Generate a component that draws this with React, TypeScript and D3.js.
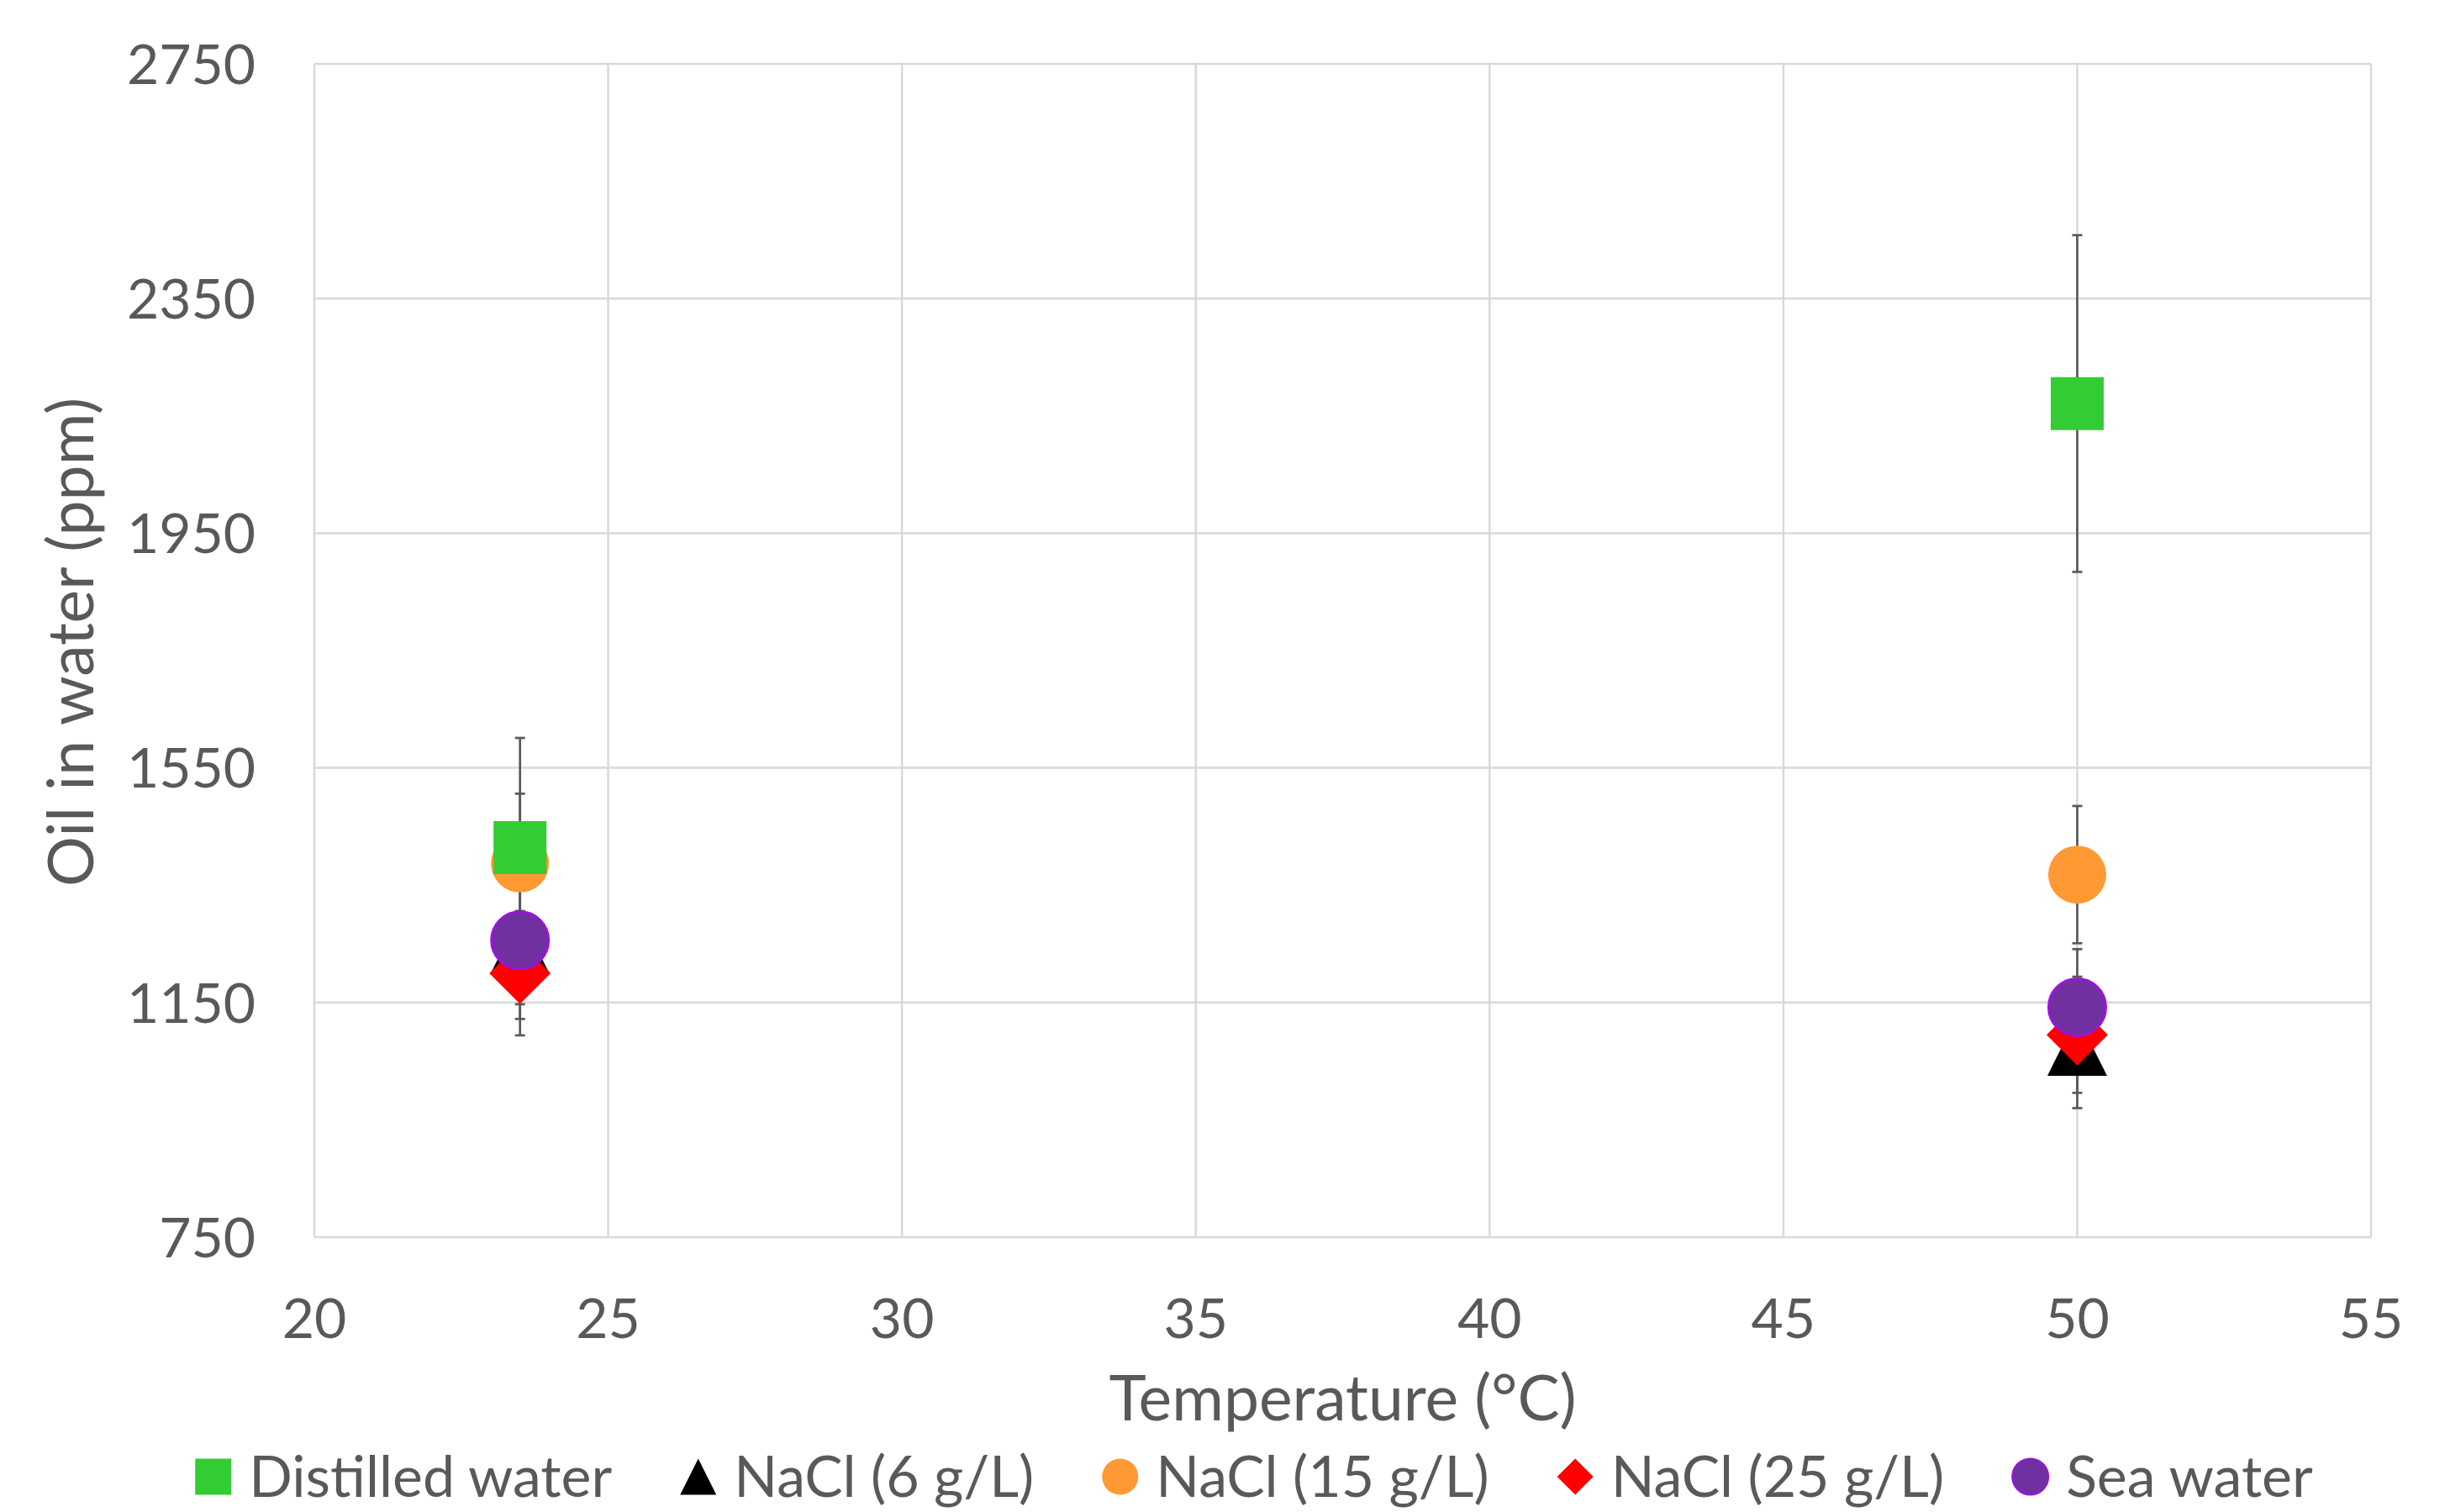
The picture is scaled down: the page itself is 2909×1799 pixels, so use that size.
import React, { useEffect, useRef } from "react";
import * as d3 from "d3";

// ---- data ----
const temperatures = [23.5, 50];
const xTicks = [20, 25, 30, 35, 40, 45, 50, 55];
const yTicks = [750, 1150, 1550, 1950, 2350, 2750];
const seriesNames = ["Distilled water", "NaCl (6 g/L)", "NaCl (15 g/L)", "NaCl (25 g/L)", "Sea water"];

const distilledWater = [1414, 2171];
const distilledErrPlus = [187, 287];
const distilledErrMinus = [187, 287];

const nacl6 = [1249, 1076];
const nacl6ErrPlus = [57, 106];
const nacl6ErrMinus = [127, 106];

const nacl15 = [1387, 1368];
const nacl15ErrPlus = [119, 117];
const nacl15ErrMinus = [119, 117];

const nacl25 = [1200, 1095];
const nacl25ErrPlus = [53, 99];
const nacl25ErrMinus = [53, 99];

const seaWater = [1256, 1142];
const seaErrPlus = [162, 99];
const seaErrMinus = [162, 99];

const xTitle = "Temperature (°C)";
const yTitle = "Oil in water (ppm)";

// ---- styles ----
const W = 2909;
const H = 1799;
const FONT = "Lato, 'Open Sans', sans-serif";
const TEXT = "#595959";
const GRID = "#D9D9D9";

type Shape = "square" | "triangle" | "circle" | "diamond";

const styles: { shape: Shape; fill: string; stroke: string | null; size: number }[] = [
  { shape: "square", fill: "#33CC33", stroke: null, size: 63 },
  { shape: "triangle", fill: "#000000", stroke: null, size: 71 },
  { shape: "circle", fill: "#FF9933", stroke: null, size: 69 },
  { shape: "diamond", fill: "#FF0000", stroke: null, size: 73 },
  { shape: "circle", fill: "#7030A0", stroke: "#9A14D8", size: 68 },
];

const seriesValues = [distilledWater, nacl6, nacl15, nacl25, seaWater];
const seriesErrPlus = [distilledErrPlus, nacl6ErrPlus, nacl15ErrPlus, nacl25ErrPlus, seaErrPlus];
const seriesErrMinus = [distilledErrMinus, nacl6ErrMinus, nacl15ErrMinus, nacl25ErrMinus, seaErrMinus];
const drawOrder = [2, 0, 1, 3, 4];

function shapePath(shape: Shape, s: number): string {
  const h = s / 2;
  const p = d3.path();
  if (shape === "square") {
    p.rect(-h, -h, s, s);
  } else if (shape === "triangle") {
    p.moveTo(0, -h);
    p.lineTo(h, h);
    p.lineTo(-h, h);
    p.closePath();
  } else if (shape === "diamond") {
    p.moveTo(0, -h);
    p.lineTo(h, 0);
    p.lineTo(0, h);
    p.lineTo(-h, 0);
    p.closePath();
  } else {
    p.arc(0, 0, h, 0, Math.PI * 2);
    p.closePath();
  }
  return p.toString();
}

export default function App() {
  const ref = useRef<SVGSVGElement | null>(null);

  useEffect(() => {
    const svg = d3.select(ref.current);
    svg.selectAll("*").remove();

    const margin = { left: 374, right: W - 2821, top: 76, bottom: H - 1472 };
    const x = d3.scaleLinear().domain([20, 55]).range([margin.left, W - margin.right]);
    const y = d3.scaleLinear().domain([750, 2750]).range([H - margin.bottom, margin.top]);

    svg.append("rect").attr("width", W).attr("height", H).attr("fill", "#fff");

    // gridlines
    const g = svg.append("g");
    g.selectAll("line.h")
      .data(yTicks)
      .join("line")
      .attr("x1", x(20))
      .attr("x2", x(55))
      .attr("y1", (d) => y(d))
      .attr("y2", (d) => y(d))
      .attr("stroke", GRID)
      .attr("stroke-width", 2.5);
    g.selectAll("line.v")
      .data(xTicks)
      .join("line")
      .attr("y1", y(750))
      .attr("y2", y(2750))
      .attr("x1", (d) => x(d))
      .attr("x2", (d) => x(d))
      .attr("stroke", GRID)
      .attr("stroke-width", 2.5);

    // tick labels
    svg
      .append("g")
      .selectAll("text")
      .data(yTicks)
      .join("text")
      .attr("x", x(20) - 70)
      .attr("y", (d) => y(d) + 0.36 * 66)
      .attr("text-anchor", "end")
      .attr("font-family", FONT)
      .attr("font-size", 66)
      .attr("fill", TEXT)
      .text((d) => String(d));

    svg
      .append("g")
      .selectAll("text")
      .data(xTicks)
      .join("text")
      .attr("x", (d) => x(d))
      .attr("y", y(750) + 120)
      .attr("text-anchor", "middle")
      .attr("font-family", FONT)
      .attr("font-size", 66)
      .attr("fill", TEXT)
      .text((d) => String(d));

    // axis titles
    svg
      .append("text")
      .attr("x", (x(20) + x(55)) / 2)
      .attr("y", 1690)
      .attr("text-anchor", "middle")
      .attr("font-family", FONT)
      .attr("font-size", 75)
      .attr("fill", TEXT)
      .text(xTitle);

    svg
      .append("text")
      .attr("transform", `translate(111, ${(y(750) + y(2750)) / 2 - 10}) rotate(-90)`)
      .attr("text-anchor", "middle")
      .attr("font-family", FONT)
      .attr("font-size", 75)
      .attr("fill", TEXT)
      .text(yTitle);

    // error bars (under all markers)
    const eb = svg.append("g").attr("stroke", "#595959").attr("stroke-width", 2.7);
    seriesValues.forEach((vals, si) => {
      vals.forEach((v, i) => {
        const cx = x(temperatures[i]);
        const hi = y(v + seriesErrPlus[si][i]);
        const lo = y(v - seriesErrMinus[si][i]);
        eb.append("line").attr("x1", cx).attr("x2", cx).attr("y1", hi).attr("y2", lo);
        eb.append("line").attr("x1", cx - 6).attr("x2", cx + 6).attr("y1", hi).attr("y2", hi);
        eb.append("line").attr("x1", cx - 6).attr("x2", cx + 6).attr("y1", lo).attr("y2", lo);
      });
    });

    // markers
    const mk = svg.append("g");
    drawOrder.forEach((si) => {
      const st = styles[si];
      mk.append("g")
        .selectAll("path")
        .data(seriesValues[si].map((v, i) => ({ t: temperatures[i], v })))
        .join("path")
        .attr("d", shapePath(st.shape, st.size))
        .attr("transform", (d) => `translate(${x(d.t)},${y(d.v)})`)
        .attr("fill", st.fill)
        .attr("stroke", st.stroke ?? "none")
        .attr("stroke-width", st.stroke ? 3 : 0);
    });

    // legend
    const legendY = 1757;
    const legendFont = 68;
    const markerSize = 43;
    const gapMarkerText = 21;
    const gapItems = 81;
    const lg = svg.append("g");
    const items = seriesNames.map((name, si) => {
      const it = lg.append("g");
      const st = styles[si];
      it.append("path")
        .attr("d", shapePath(st.shape, markerSize))
        .attr("transform", `translate(${markerSize / 2},${legendY})`)
        .attr("fill", st.fill)
        .attr("stroke", st.stroke ?? "none")
        .attr("stroke-width", st.stroke ? 2 : 0);
      const t = it
        .append("text")
        .attr("x", markerSize + gapMarkerText)
        .attr("y", legendY + 0.36 * legendFont)
        .attr("font-family", FONT)
        .attr("font-size", legendFont)
        .attr("fill", TEXT)
        .text(name);
      const w = (t.node() as SVGTextElement).getComputedTextLength();
      return { it, width: markerSize + gapMarkerText + w };
    });
    const total = d3.sum(items, (d) => d.width) + gapItems * (items.length - 1);
    let cur = 1492 - total / 2;
    items.forEach((d) => {
      d.it.attr("transform", `translate(${cur},0)`);
      cur += d.width + gapItems;
    });
  }, []);

  return (
    <svg
      ref={ref}
      width={W}
      height={H}
      style={{ position: "absolute", left: 0, top: 0, display: "block" }}
    />
  );
}
